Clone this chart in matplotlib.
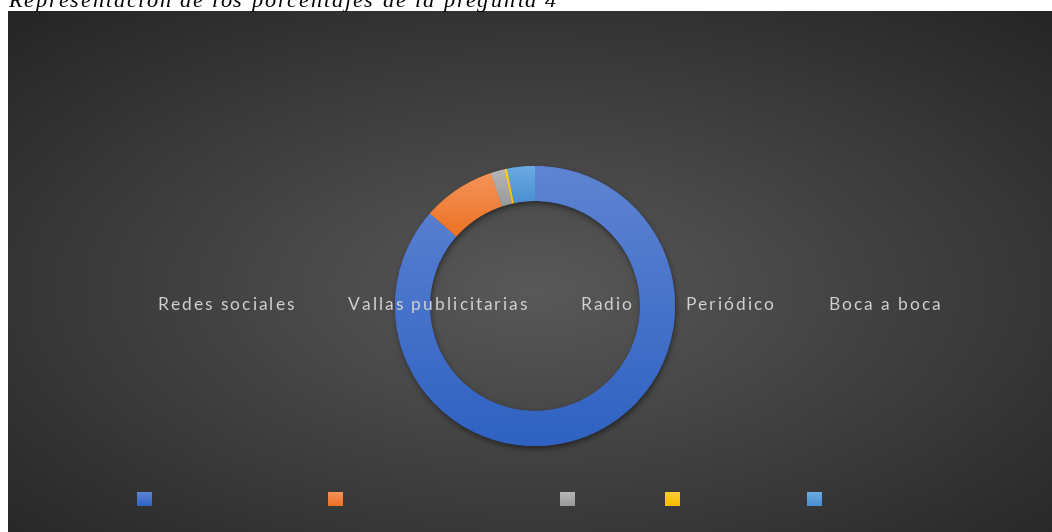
import numpy as np
import matplotlib
matplotlib.use("Agg")
import matplotlib.pyplot as plt
from matplotlib.font_manager import FontProperties
from matplotlib.patches import Rectangle

W, H = 1052, 532

title = "Representación de los porcentajes de la pregunta 4"
categories = ["Redes sociales", "Vallas publicitarias", "Radio", "Periódico", "Boca a boca"]
percentages = [86.5, 8.4, 1.6, 0.3, 3.2]
top_colors = ["#5f84d2", "#f4935a", "#b6b6b6", "#ffcd38", "#6cabe2"]
bottom_colors = ["#2f62c2", "#ed7222", "#9a9a9a", "#f7bd00", "#4a90d3"]

fig = plt.figure(figsize=(W / 100, H / 100), dpi=100, facecolor="white")
ax = fig.add_axes([0, 0, 1, 1])

# donut geometry in pixels (y measured from the top)
cx, cy = 535, 306
r_out, r_in = 140, 105

# dark radial background with the donut's soft shadow baked in
px0, py0 = 8, 11
xs = np.arange(px0, W) + 0.5
ys = np.arange(py0, H) + 0.5
X, Y = np.meshgrid(xs, ys)
t = np.sqrt(((X - cx) / (W / 2)) ** 2 + ((Y - 290) / (H / 2)) ** 2) / np.sqrt(2)
t = np.clip(t, 0, 1)
g = (0x59 + (0x26 - 0x59) * t) / 255
r = np.hypot(X - (cx + 1), Y - (cy + 3))
sig = lambda v: 1 / (1 + np.exp(-v))
shadow = sig((r_out - r) / 1.8) * sig((r - r_in) / 1.8)
g = g * (1 - 0.45 * shadow)
bg = np.dstack([g, g, g])
ax.imshow(bg, extent=(px0, W, 0, H - py0), origin="upper", interpolation="nearest", zorder=0)


def gradient_fill(patch, c_top, c_bot):
    x0, y0, x1, y1 = patch.get_path().get_extents(patch.get_patch_transform()).extents
    a = np.array(matplotlib.colors.to_rgb(c_top))
    b = np.array(matplotlib.colors.to_rgb(c_bot))
    f = np.linspace(0, 1, 64)[:, None]
    img = (a * (1 - f) + b * f)[:, None, :]
    im = ax.imshow(img, extent=(x0, x1, y0, y1), origin="upper", aspect="auto",
                   interpolation="bilinear", zorder=patch.get_zorder() + 0.1)
    im.set_clip_path(patch)


wedges, _ = ax.pie(percentages, colors=bottom_colors, startangle=90, counterclock=False,
                   radius=r_out, center=(cx, H - cy), frame=True,
                   wedgeprops=dict(width=r_out - r_in, linewidth=0))
for w, c0, c1 in zip(wedges, top_colors, bottom_colors):
    gradient_fill(w, c0, c1)

# legend swatches along the bottom
marker_x = [137, 328, 560, 665, 807]
for mx, c0, c1 in zip(marker_x, top_colors, bottom_colors):
    sq = Rectangle((mx, H - 506), 15, 14, facecolor=c1, linewidth=0, zorder=3)
    ax.add_patch(sq)
    gradient_fill(sq, c0, c1)

ax.set_xlim(0, W)
ax.set_ylim(0, H)
ax.set_aspect("auto")
ax.axis("off")

renderer = fig.canvas.get_renderer()


def spaced_text(x_px, y_px, s, fp, spacing, color):
    for i, ch in enumerate(s):
        if ch == " ":
            continue
        w_all = renderer.get_text_width_height_descent(s[:i + 1], fp, ismath=False)[0]
        w_ch = renderer.get_text_width_height_descent(ch, fp, ismath=False)[0]
        x = x_px + w_all - w_ch + i * spacing
        fig.text(x / W, 1 - y_px / H, ch, fontproperties=fp, color=color,
                 ha="left", va="baseline")


label_fp = FontProperties(family="Lato", size=12.5)
label_x = [157, 348, 580, 685, 828]
for lx, name in zip(label_x, categories):
    spaced_text(lx, 310, name, label_fp, 2.0, "#d0d0d0")

title_fp = FontProperties(family="Liberation Serif", style="italic", size=16)
spaced_text(8, 7, title, title_fp, 1.9, "black")

fig.savefig("out.png", dpi=100, facecolor="white")
